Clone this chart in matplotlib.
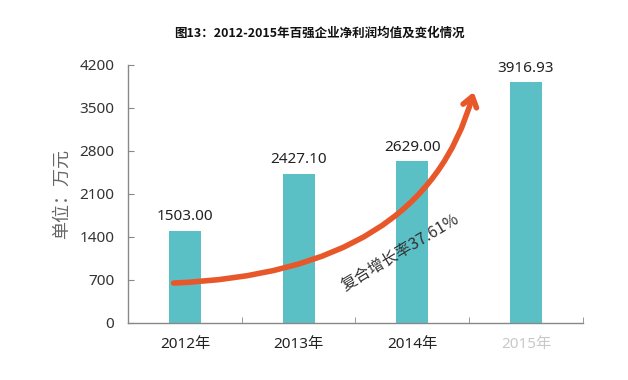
import matplotlib
matplotlib.use("Agg")
import matplotlib.pyplot as plt
from matplotlib.patches import FancyArrowPatch
from matplotlib.path import Path

plt.rcParams["font.family"] = ["Noto Sans", "Noto Sans CJK SC", "DejaVu Sans"]

years = ["2012年", "2013年", "2014年", "2015年"]
profit = [1503.00, 2427.10, 2629.00, 3916.93]
yticks = [0, 700, 1400, 2100, 2800, 3500, 4200]
growth_label = "复合增长率37.61%"

# Curved arrow (start, control, tip) in data coordinates.
arrow_start = (-0.1, 650)
arrow_ctrl = (2.1, 820)
arrow_tip = (2.54, 3760)

fig = plt.figure(figsize=(6.28, 3.80), dpi=100)
ax = fig.add_axes([0.204, 0.15, 0.724, 0.679])

x = list(range(len(years)))
ax.bar(x, profit, width=0.28, color="#5BC0C6", zorder=2)
for xi, v in zip(x, profit):
    ax.text(xi, v + 110, f"{v:.2f}", ha="center", va="bottom",
            fontsize=11, color="#222222")

ax.set_xlim(-0.5, 3.5)
ax.set_ylim(0, 4200)
ax.set_yticks(yticks)
ax.set_yticklabels([str(t) for t in yticks], fontsize=11, color="#333333")
ax.set_xticks(x)
ax.set_xticklabels(years, fontsize=11, color="#222222")
ax.get_xticklabels()[-1].set_color("#c8c8c8")
ax.set_xticks([0.5, 1.5, 2.5, 3.5], minor=True)
ax.tick_params(axis="x", which="major", length=0, pad=10)
ax.tick_params(axis="x", which="minor", direction="in", length=4,
               color="#888888")
ax.tick_params(axis="y", direction="in", length=4, color="#888888", pad=10)

for side in ["top", "right"]:
    ax.spines[side].set_visible(False)
for side in ["left", "bottom"]:
    ax.spines[side].set_color("#888888")
    ax.spines[side].set_linewidth(1.0)

ax.set_ylabel("单位：万元", family=["Noto Sans CJK SC"], fontsize=13,
              color="#666666", labelpad=6)

path = Path([arrow_start, arrow_ctrl, arrow_tip],
            [Path.MOVETO, Path.CURVE3, Path.CURVE3])
arrow = FancyArrowPatch(path=path, arrowstyle="->,head_length=7,head_width=5",
                        color="#E8572A", lw=4, transform=ax.transData,
                        zorder=3, capstyle="round", joinstyle="round")
ax.add_patch(arrow)

ax.text(1.89, 1150, growth_label, rotation=31, ha="center", va="center",
        fontsize=11.5, color="#333333", family=["Noto Sans CJK SC"], zorder=4)

fig.text(0.508, 0.913, "图13：2012-2015年百强企业净利润均值及变化情况",
         ha="center", va="center", fontsize=9, fontweight="bold",
         family=["Noto Sans CJK SC"], color="#111111")

fig.savefig("out.png", dpi=100)
